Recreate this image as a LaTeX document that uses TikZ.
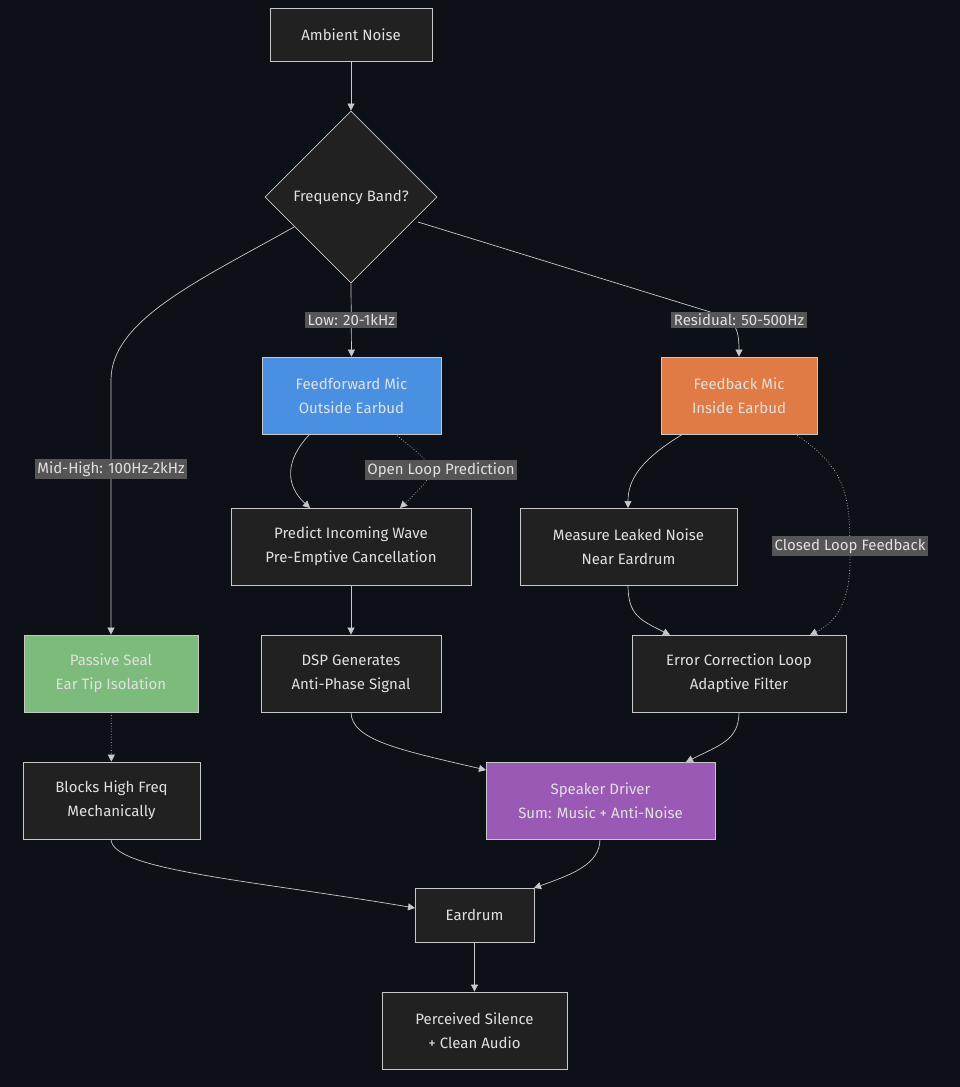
\documentclass[tikz,border=0pt]{standalone}
\usepackage{fontspec}
\setmainfont{Fira Sans}
\usetikzlibrary{shapes.geometric,arrows.meta}
\definecolor{bg}{HTML}{0D1117}
\definecolor{nf}{HTML}{212121}
\definecolor{ns}{HTML}{C8C8C8}
\definecolor{lb}{HTML}{555555}
\definecolor{tx}{HTML}{E0E0E0}
\begin{document}
\begin{tikzpicture}[x=1pt,y=-1pt,
  box/.style={draw=ns,fill=nf,text=tx,line width=0.8pt,align=center,inner sep=0pt,font=\fontsize{15}{24}\selectfont},
  e/.style={draw=ns,line width=0.7pt,-{Triangle[length=7pt,width=7pt]}},
  d/.style={e,dotted},
  lab/.style={fill=lb,text=tx,inner sep=2.5pt,font=\fontsize{15}{17}\selectfont}]
\fill[bg] (0,0) rectangle (960,1087);
\useasboundingbox (0,0) rectangle (960,1087);
\node[box,minimum width=162pt,minimum height=53pt] (amb) at (351,34.5) {Ambient Noise};
\node[box,diamond,minimum width=172pt,minimum height=172pt] (dia) at (351,197) {Frequency Band?};
\node[box,fill={rgb,255:red,74;green,144;blue,226},minimum width=179pt,minimum height=77pt] (ff) at (351.5,395.5) {Feedforward Mic\\Outside Earbud};
\node[box,fill={rgb,255:red,224;green,123;blue,69},minimum width=156pt,minimum height=77pt] (fb) at (739,395.5) {Feedback Mic\\Inside Earbud};
\node[box,minimum width=240pt,minimum height=77pt] (pred) at (351,546.5) {Predict Incoming Wave\\Pre-Emptive Cancellation};
\node[box,minimum width=217pt,minimum height=77pt] (meas) at (628.5,546.5) {Measure Leaked Noise\\Near Eardrum};
\node[box,fill={rgb,255:red,125;green,187;blue,125},minimum width=174pt,minimum height=77pt] (pas) at (111,673.5) {Passive Seal\\Ear Tip Isolation};
\node[box,minimum width=180pt,minimum height=77pt] (dsp) at (351,673.5) {DSP Generates\\Anti-Phase Signal};
\node[box,minimum width=214pt,minimum height=77pt] (err) at (739,673.5) {Error Correction Loop\\Adaptive Filter};
\node[box,minimum width=177pt,minimum height=77pt] (blk) at (111.5,800.5) {Blocks High Freq\\Mechanically};
\node[box,fill={rgb,255:red,155;green,89;blue,182},minimum width=229pt,minimum height=77pt] (spk) at (600.5,800.5) {Speaker Driver\\Sum: Music + Anti-Noise};
\node[box,minimum width=119pt,minimum height=54pt] (ear) at (474.5,915) {Eardrum};
\node[box,minimum width=185pt,minimum height=77pt] (per) at (474.5,1030.5) {Perceived Silence\\+ Clean Audio};

\draw[e] (amb) -- (dia);
\draw[e] (dia.south) -- (ff.north) node[lab,pos=0.5] {Low: 20-1kHz};
\draw[e] (294,227) .. controls (200,280) and (111,320) .. (111,380) -- (pas.north) node[lab,pos=0.35] {Mid-High: 100Hz-2kHz};
\draw[e] (418,222) -- (720,315) .. controls (735,320) and (739,330) .. (fb.north);
\node[lab] at (739,320) {Residual: 50-500Hz};
\draw[e] (310,434) .. controls (285,460) and (285,485) .. (310,508);
\draw[d] (395,434) .. controls (440,470) .. (400,508);
\node[lab] at (441,470) {Open Loop Prediction};
\draw[e] (pred) -- (dsp);
\draw[e] (683,434) .. controls (640,460) and (628,480) .. (628,508);
\draw[d] (795,434) .. controls (850,470) and (850,500) .. (850,560) .. controls (850,610) and (830,625) .. (810,635);
\node[lab] at (850,546) {Closed Loop Feedback};
\draw[e] (628,585) .. controls (628,615) and (640,620) .. (670,635);
\draw[d] (pas) -- (blk);
\draw[e] (351,712) .. controls (351,740) and (400,750) .. (486,770);
\draw[e] (739,712) .. controls (739,740) and (720,745) .. (686,762);
\draw[e] (111,839) .. controls (111,870) and (250,880) .. (415,908);
\draw[e] (600,839) .. controls (600,865) and (570,875) .. (534,888);
\draw[e] (ear) -- (per);
\end{tikzpicture}
\end{document}
